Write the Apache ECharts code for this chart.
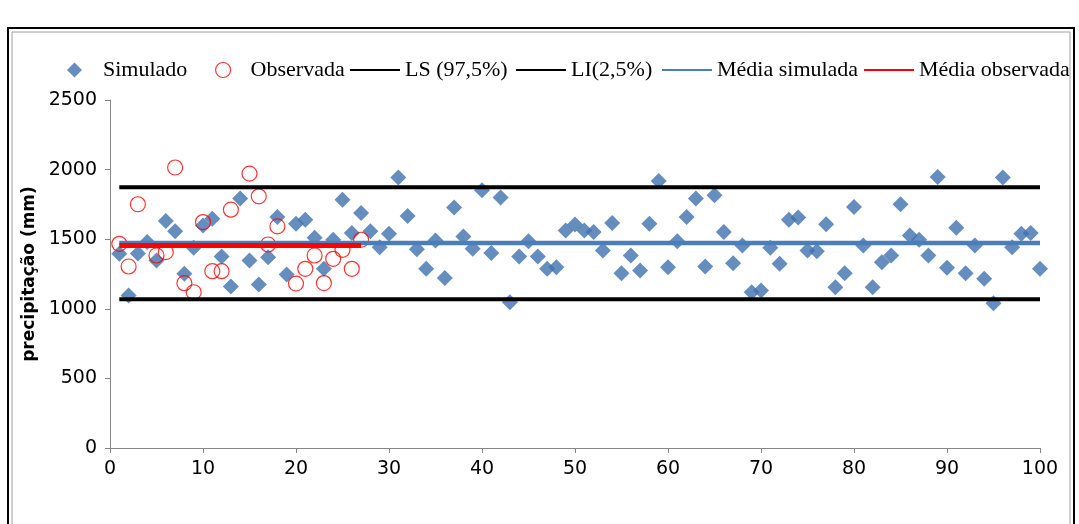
<!DOCTYPE html>
<html>
<head>
<meta charset="utf-8">
<script src="https://cdn.jsdelivr.net/npm/echarts@6/dist/echarts.min.js"></script>
<style>
html,body{margin:0;padding:0;background:#fff;}
#chart{width:1079px;height:524px;}
</style>
</head>
<body>
<div id="chart"></div>
<script>
// ---- data ----
const simulado = [
  1395, 1095, 1398, 1480, 1347, 1630, 1558, 1251, 1438, 1599,
  1647, 1376, 1160, 1792, 1347, 1174, 1371, 1659, 1246, 1611,
  1640, 1511, 1287, 1496, 1784, 1544, 1688, 1558, 1443, 1539,
  1943, 1667, 1427, 1287, 1491, 1222, 1727, 1520, 1431, 1852,
  1400, 1799, 1047, 1376, 1486, 1376, 1287, 1299, 1563, 1605,
  1563, 1551, 1419, 1616, 1256, 1383, 1275, 1611, 1919, 1299,
  1486, 1659, 1792, 1304, 1816, 1551, 1328, 1455, 1119, 1131,
  1438, 1323, 1640, 1655, 1419, 1414, 1607, 1155, 1256, 1732,
  1455, 1155, 1335, 1383, 1751, 1527, 1496, 1383, 1947, 1295,
  1583, 1256, 1455, 1215, 1040, 1943, 1443, 1539, 1544, 1287
];
const observada = [
  1467, 1304, 1751, null, 1383, 1407, 2015, 1184, 1119, 1623,
  1270, 1270, 1712, null, 1971, 1808, 1462, 1592, null, 1181,
  1287, 1383, 1185, 1359, 1424, 1287, 1496
];
const lineNames = ['LS (97,5%)', 'LI(2,5%)', 'Média simulada', 'Média observada'];
const lineLevels = [1873, 1069, 1472, 1454];
const lineSpans = [[1, 100], [1, 100], [1, 100], [1, 27]];
const yTicks = [0, 500, 1000, 1500, 2000, 2500];
const xTicks = [0, 10, 20, 30, 40, 50, 60, 70, 80, 90, 100];

// ---- build options ----
const lineColors = ['#000000', '#000000', '#4A7EBB', '#FF0000'];
const lineWidths = [4, 4, 4.5, 5];

const simPts = simulado.map((v, i) => [i + 1, v]);
const obsPts = observada.map((v, i) => v == null ? null : [i + 1, v]).filter(p => p);

const series = [
  {
    name: 'Simulado', type: 'scatter', symbol: 'diamond', symbolSize: 16,
    itemStyle: { color: '#3F72AF' }, data: simPts, z: 2
  },
  {
    name: 'Observada', type: 'scatter', symbol: 'circle', symbolSize: 15,
    itemStyle: { color: 'rgba(0,0,0,0)', borderColor: '#FF0000', borderWidth: 1.2 },
    data: obsPts, z: 3
  }
];
lineNames.forEach((n, k) => {
  series.push({
    name: n, type: 'line', symbol: 'none', showSymbol: false,
    lineStyle: { color: lineColors[k], width: lineWidths[k] },
    itemStyle: { color: lineColors[k] },
    data: [[lineSpans[k][0], lineLevels[k]], [lineSpans[k][1], lineLevels[k]]],
    z: 4 + k
  });
});

const legendTop = 59;
const legendFont = { fontFamily: 'Liberation Serif', fontSize: 22, color: '#000' };
function markerLegend(name, left, icon, pad, extra) {
  return Object.assign({
    data: [{ name: name, icon: icon }], left: left, top: legendTop, itemWidth: 15, itemHeight: 15,
    padding: 0, selectedMode: false, symbolKeepAspect: true,
    textStyle: Object.assign({ padding: [0, 0, 0, pad] }, legendFont)
  }, extra || {});
}
function lineLegend(name, left, color) {
  return {
    data: [{ name: name, icon: 'rect', itemStyle: { color: color } }],
    left: left, top: legendTop, itemWidth: 50, itemHeight: 2,
    padding: 0, selectedMode: false, textStyle: legendFont
  };
}

const option = {
  animation: false,
  backgroundColor: '#fff',
  grid: { left: 110, right: 39, top: 100, bottom: 76, containLabel: false },
  legend: [
    markerLegend('Simulado', 67, 'diamond', 16),
    markerLegend('Observada', 215, 'circle', 15,
      { itemStyle: { color: 'rgba(0,0,0,0)', borderColor: '#FF0000', borderWidth: 1.2 } }),
    lineLegend('LS (97,5%)', 350, '#000000'),
    lineLegend('LI(2,5%)', 516, '#000000'),
    lineLegend('Média simulada', 662, '#4A7EBB'),
    lineLegend('Média observada', 864, '#FF0000')
  ],
  xAxis: {
    type: 'value', min: xTicks[0], max: xTicks[xTicks.length - 1],
    interval: xTicks[1] - xTicks[0],
    axisLine: { show: true, lineStyle: { color: '#868686', width: 1 } },
    axisTick: { show: true, length: 5, lineStyle: { color: '#868686' } },
    splitLine: { show: false },
    axisLabel: { margin: 12, fontFamily: 'DejaVu Sans', fontSize: 19, color: '#000',
      formatter: v => String(v) }
  },
  yAxis: {
    type: 'value', min: yTicks[0], max: yTicks[yTicks.length - 1],
    interval: yTicks[1] - yTicks[0],
    name: 'precipitação (mm)', nameLocation: 'middle', nameGap: 54,
    nameTextStyle: { fontFamily: 'DejaVu Sans', fontSize: 17, fontWeight: 'bold', color: '#000' },
    axisLine: { show: true, lineStyle: { color: '#868686', width: 1 } },
    axisTick: { show: true, length: 5, lineStyle: { color: '#868686' } },
    splitLine: { show: false },
    axisLabel: { margin: 13, fontFamily: 'DejaVu Sans', fontSize: 19, color: '#000',
      formatter: v => String(v) }
  },
  graphic: [
    { type: 'rect', silent: true, z: -10,
      shape: { x: 8, y: 28, width: 1066, height: 530 },
      style: { fill: 'none', stroke: '#000', lineWidth: 2 } },
    { type: 'rect', silent: true, z: -10,
      shape: { x: 12, y: 32, width: 1058, height: 530 },
      style: { fill: 'none', stroke: '#a0a0a0', lineWidth: 1 } }
  ],
  series: series
};

const chart = echarts.init(document.getElementById('chart'), null, { renderer: 'canvas' });
chart.setOption(option);
</script>
</body>
</html>
